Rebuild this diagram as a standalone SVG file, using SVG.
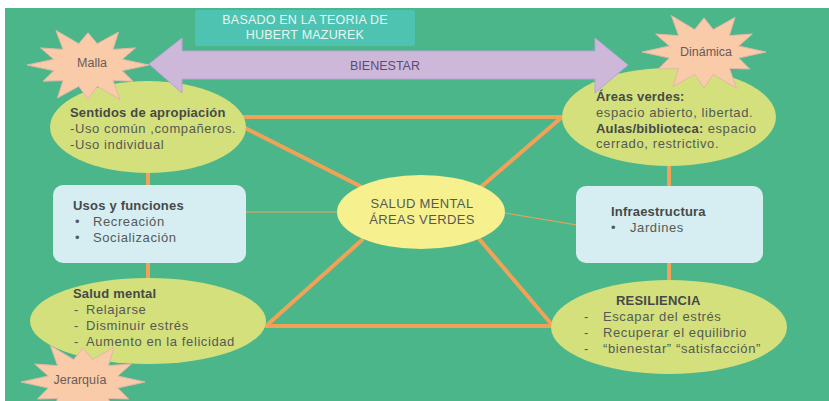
<svg xmlns="http://www.w3.org/2000/svg" width="829" height="401" viewBox="0 0 829 401">
<style>
text{font-family:"Liberation Sans",Arial,sans-serif;font-size:13px;letter-spacing:0.6px;fill:#555a55}
.b{font-weight:bold;fill:#454a48;letter-spacing:0.2px}
.ell{fill:#d3e07b}
.box{fill:#d6edf2}
.star{fill:#f9cba9;stroke:#e2b8a8;stroke-width:1}
.st{fill:#6b5a55;font-size:12.5px;letter-spacing:0}
.thick{stroke:#f2a257;stroke-width:4;fill:none;stroke-linecap:round}
.thin{stroke:#f2a257;stroke-width:1;fill:none}
.hdr{fill:#e6f6f2;font-size:12.5px;letter-spacing:0.2px}
.ctr{font-size:13px;letter-spacing:0.35px}
</style>
<rect x="5" y="8" width="824" height="393" fill="#4cb68b"/>

<g id="connectors">
<line class="thick" x1="241" y1="117" x2="562" y2="117"/>
<line class="thick" x1="245" y1="128" x2="360" y2="186"/>
<line class="thick" x1="562" y1="117" x2="482" y2="186"/>
<line class="thick" x1="362" y1="240" x2="266" y2="326"/>
<line class="thick" x1="266" y1="326" x2="553" y2="326"/>
<line class="thick" x1="480" y1="240" x2="553" y2="326"/>
<line class="thin" x1="246" y1="212" x2="338" y2="212"/>
<line class="thin" x1="505" y1="213" x2="577" y2="225"/>
<line class="thick" x1="148" y1="172" x2="148" y2="186"/>
<line class="thick" x1="148" y1="262" x2="148" y2="279"/>
<line class="thick" x1="669" y1="166" x2="669" y2="187"/>
<line class="thick" x1="669" y1="262" x2="669" y2="281"/>
</g>

<g id="header">
<rect x="195" y="10" width="220" height="36" rx="3" fill="#4fc3b1"/>
<text class="hdr" x="305" y="24" text-anchor="middle">BASADO EN LA TEORIA DE</text>
<text class="hdr" x="305" y="39" text-anchor="middle">HUBERT MAZUREK</text>
</g>

<g id="sentidos">
<ellipse class="ell" cx="148" cy="127" rx="98" ry="46"/>
<text class="b" x="70" y="117">Sentidos de apropiación</text>
<text x="70" y="133">-Uso común ,compañeros.</text>
<text x="70" y="149">-Uso individual</text>
</g>

<g id="areas">
<ellipse class="ell" cx="669" cy="117" rx="107" ry="49"/>
<text class="b" x="596" y="101">Áreas verdes:</text>
<text x="596" y="117">espacio abierto, libertad.</text>
<text x="596" y="133"><tspan class="b">Aulas/biblioteca:</tspan> espacio</text>
<text x="596" y="148">cerrado, restrictivo.</text>
</g>

<g id="bienestar">
<polygon points="149,64 182,38 182,51 595,51 595,38 628,65 595,93 595,79 182,79 182,93" fill="#cdb8da" stroke="#b4a6d4" stroke-width="1"/>
<text x="385" y="70" text-anchor="middle" style="fill:#5b4a78;font-size:12.5px;letter-spacing:0">BIENESTAR</text>
</g>

<g id="usos">
<rect class="box" x="53" y="185" width="193" height="78" rx="10"/>
<text class="b" x="73" y="210">Usos y funciones</text>
<text x="75" y="226">•</text><text x="93" y="226">Recreación</text>
<text x="75" y="242">•</text><text x="93" y="242">Socialización</text>
</g>

<g id="infra">
<rect class="box" x="576" y="186" width="187" height="77" rx="10"/>
<text class="b" x="611" y="216">Infraestructura</text>
<text x="611" y="232">•</text><text x="630" y="232">Jardines</text>
</g>

<g id="centro">
<ellipse cx="421" cy="212" rx="84" ry="37" fill="#f6f08e"/>
<text class="ctr" x="422" y="208" text-anchor="middle">SALUD MENTAL</text>
<text class="ctr" x="422" y="224" text-anchor="middle">ÁREAS VERDES</text>
</g>

<g id="saludmental">
<ellipse class="ell" cx="148" cy="321" rx="118" ry="43"/>
<text class="b" x="73" y="298">Salud mental</text>
<text x="74" y="314">-</text><text x="86" y="314">Relajarse</text>
<text x="74" y="330">-</text><text x="86" y="330">Disminuir estrés</text>
<text x="74" y="346">-</text><text x="86" y="346">Aumento en la felicidad</text>
</g>

<g id="resiliencia">
<ellipse class="ell" cx="669" cy="327" rx="118" ry="47"/>
<text class="b" x="616" y="305">RESILIENCIA</text>
<text x="584" y="321">-</text><text x="603" y="321">Escapar del estrés</text>
<text x="584" y="337">-</text><text x="603" y="337">Recuperar el equilibrio</text>
<text x="584" y="353">-</text><text x="603" y="353">“bienestar” “satisfacción”</text>
</g>

<g id="malla">
<polygon class="star" points="149,65 122.2,70.7 132.9,81.2 113,80.6 120,99.5 97.2,86.3 88,99.2 78.8,86.3 57.5,97.9 63,80.6 43.1,81.2 53.8,70.7 27,65 53.8,59.3 40.5,47.9 63,49.4 56,30.5 78.8,43.7 88,32.7 97.2,43.7 118.5,32.1 113,49.4 135.5,47.9 122.2,59.3"/>
<text class="st" x="92" y="67" text-anchor="middle">Malla</text>
</g>

<g id="dinamica">
<polygon class="star" points="766,52 738.7,58 749.6,69 729.4,68.4 736.6,88.4 713.3,74.4 704,88 694.7,74.4 673,86.6 678.6,68.4 658.4,69 669.3,58 642,52 669.3,46 655.7,34 678.6,35.6 671.4,15.6 694.7,29.6 704,18 713.3,29.6 735,17.4 729.4,35.6 752.3,34 738.7,46"/>
<text class="st" x="706" y="56" text-anchor="middle">Dinámica</text>
</g>

<g id="jerarquia">
<polygon class="star" points="145,382 117.7,388 128.6,399 108.4,398.4 115.6,418.4 92.3,404.4 83,418 73.7,404.4 52,416.6 57.6,398.4 37.4,399 48.3,388 21,382 48.3,376 34.7,364 57.6,365.6 50.4,345.6 73.7,359.6 83,348 92.3,359.6 114,347.4 108.4,365.6 131.3,364 117.7,376"/>
<text class="st" x="80" y="384" text-anchor="middle">Jerarquía</text>
</g>
</svg>
